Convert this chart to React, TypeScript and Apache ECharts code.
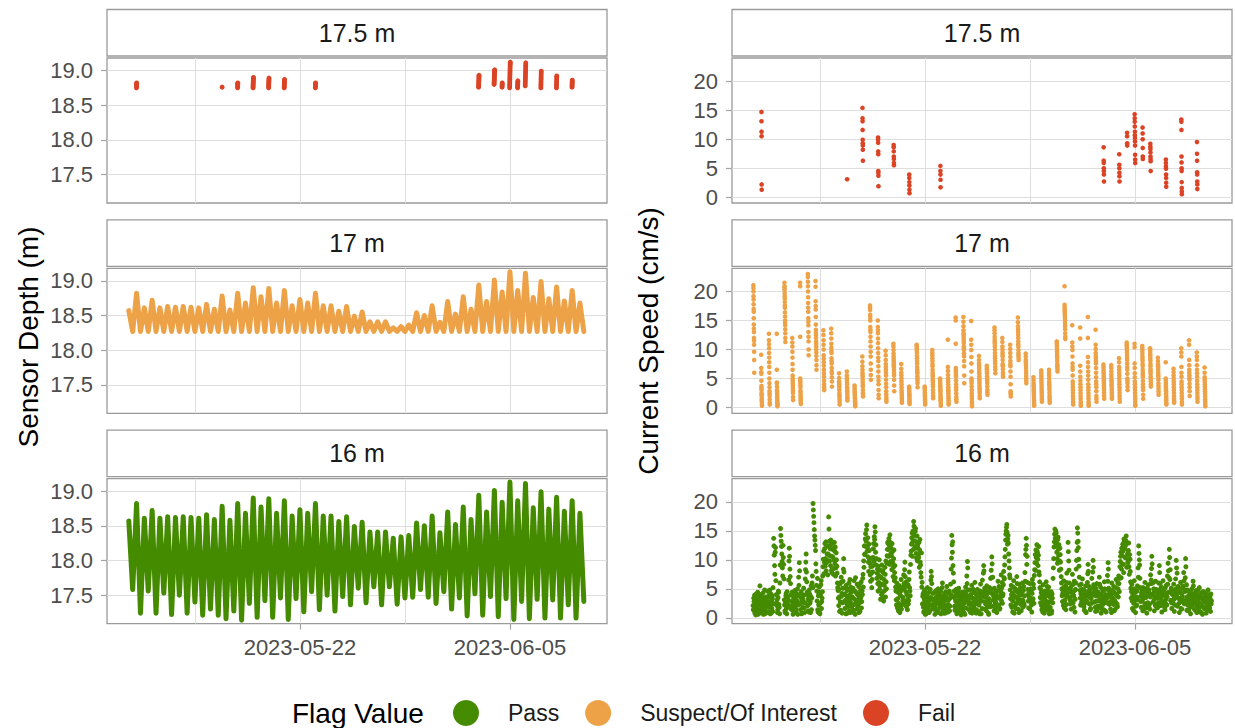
import React, { useEffect, useRef } from "react";
import * as echarts from "echarts";

// ---------------- data ----------------
const panelLabels = ["17.5 m", "17 m", "16 m"];
const legendLabels = ["Pass", "Suspect/Of Interest", "Fail"];
const flagColors = ["#458B00", "#EDA247", "#DB4325"];

const xGridDates = ["2023-05-15", "2023-05-22", "2023-05-29", "2023-06-05"];
const xTickDates = ["2023-05-22", "2023-06-05"];
const depthTicks = [17.5, 18.0, 18.5, 19.0];
const speedTicks = [0, 5, 10, 15, 20];

// sensor depth: successive high / low waters (m)
const firstHighWater = "2023-05-10T14:14:00Z";
const tideHalfPeriodHours = 6.222;
const depthHighs = [
  18.57, 18.82, 18.61, 18.72, 18.61, 18.63, 18.62, 18.63, 18.62, 18.61,
  18.66, 18.59, 18.78, 18.58, 18.82, 18.68, 18.9, 18.77, 18.89, 18.68,
  18.86, 18.64, 18.73, 18.68, 18.82, 18.64, 18.64, 18.56, 18.63, 18.49,
  18.55, 18.41, 18.41, 18.41, 18.32, 18.34, 18.36, 18.54, 18.5, 18.64,
  18.4, 18.7, 18.52, 18.77, 18.59, 18.94, 18.7, 19.01, 18.84, 19.13,
  18.86, 19.11, 18.76, 18.99, 18.74, 18.91, 18.71, 18.86, 18.68,
];
const depthLows = [
  17.58, 17.24, 17.56, 17.24, 17.53, 17.22, 17.5, 17.24, 17.4, 17.21,
  17.3, 17.21, 17.16, 17.27, 17.14, 17.38, 17.18, 17.42, 17.18, 17.46,
  17.15, 17.45, 17.26, 17.55, 17.29, 17.5, 17.27, 17.48, 17.36, 17.6,
  17.39, 17.62, 17.36, 17.62, 17.37, 17.46, 17.47, 17.58, 17.47, 17.38,
  17.55, 17.3, 17.46, 17.2, 17.52, 17.21, 17.48, 17.19, 17.45, 17.15,
  17.41, 17.16, 17.44, 17.17, 17.43, 17.17, 17.36, 17.17, 17.41,
];
// the 17 m bin only reports while the sensor is deeper than this
const bin17SurfaceDepth = 18.27;

// high-water cycles with "Fail" flags at 17.5 m
const failCycles = [1, 12, 14, 16, 18, 20, 24, 45, 47, 48, 49, 50, 51, 53, 55, 57];
const failDepth = [
  [18.75, 18.77, 18.79, 18.81, 18.82],
  [18.76],
  [18.75, 18.77, 18.79, 18.81, 18.82],
  [18.75, 18.77, 18.79, 18.81, 18.83, 18.85, 18.87, 18.89, 18.9],
  [18.75, 18.77, 18.79, 18.81, 18.83, 18.85, 18.87, 18.89],
  [18.75, 18.77, 18.79, 18.81, 18.83, 18.85, 18.87],
  [18.75, 18.77, 18.79, 18.81, 18.82],
  [18.76, 18.78, 18.8, 18.82, 18.84, 18.86, 18.88, 18.9, 18.92, 18.93],
  [18.8, 18.82, 18.84, 18.86, 18.88, 18.9, 18.92, 18.94, 18.96, 18.98, 19.0, 19.01],
  [18.76, 18.78, 18.8, 18.82],
  [18.75, 18.78, 18.81, 18.84, 18.87, 18.9, 18.93, 18.96, 18.99, 19.02, 19.05, 19.08, 19.1, 19.12],
  [18.75, 18.77, 18.79, 18.81, 18.83, 18.85],
  [18.78, 18.81, 18.84, 18.87, 18.9, 18.93, 18.96, 18.99, 19.02, 19.05, 19.08, 19.11],
  [18.75, 18.78, 18.81, 18.84, 18.87, 18.9, 18.93, 18.96, 18.99],
  [18.75, 18.78, 18.81, 18.84, 18.87, 18.9, 18.92],
  [18.76, 18.78, 18.8, 18.82, 18.84, 18.86],
];
const failSpeed = [
  [14.7, 13.1, 11.3, 10.5, 2.2, 1.3],
  [3.1],
  [15.4, 13.6, 13.1, 11.6, 9.9, 9.3, 8.9, 8.2, 6.3],
  [10.3, 9.9, 9.4, 7.9, 7.4, 4.5, 4.2, 3.7, 1.9],
  [9.0, 8.6, 7.9, 7.0, 6.6, 5.9, 5.5],
  [3.9, 3.3, 2.6, 2.0, 1.3, 0.7],
  [5.4, 4.5, 3.9, 3.0, 1.7],
  [8.6, 6.3, 5.9, 5.0, 4.5, 3.9, 2.7],
  [7.4, 5.6, 5.0, 4.2, 3.6, 2.7],
  [11.1, 10.5, 9.3, 8.9],
  [14.3, 13.6, 13.0, 12.2, 11.3, 10.7, 10.2, 9.6, 8.9, 7.3, 6.5, 5.9],
  [12.0, 11.0, 10.0, 8.5, 7.0, 6.6],
  [9.2, 8.7, 8.3, 7.7, 7.0, 6.6, 6.2, 4.5],
  [6.5, 5.9, 5.3, 4.9, 3.9, 3.3, 2.5, 1.8],
  [13.4, 13.0, 11.6, 7.0, 6.0, 5.0, 4.5, 2.6, 1.6, 1.0, 0.5],
  [9.5, 7.5, 6.3, 4.3, 3.9, 2.7, 2.2, 1.4],
];

// "Suspect/Of Interest" speeds at 17 m, one list per high-water cycle
const suspectSpeed = [
  [21.1, 20.6, 20.0, 19.2, 18.6, 17.8, 17.0, 16.5, 15.4, 14.3, 13.6, 13.0, 12.0, 11.5, 10.8, 9.6, 8.2, 6.0],
  [9.1, 6.8, 6.1, 5.8, 4.6, 3.7, 3.3, 3.0, 2.5, 2.2, 2.0, 1.5, 1.2, 1.0, 0.6, 0.3],
  [12.7, 11.6, 10.9, 10.2, 9.4, 8.6, 7.8, 7.0, 6.0, 5.0, 4.2, 3.5, 2.8, 2.4, 2.0, 1.4, 0.8, 0.5],
  [12.7, 6.5, 4.3, 4.2, 3.6, 3.0, 2.7, 2.4, 2.0, 1.7, 1.3, 1.0, 0.7, 0.5, 0.2],
  [21.5, 20.9, 20.6, 20.3, 19.7, 19.2, 18.8, 18.2, 17.6, 17.2, 16.4, 15.7, 15.0, 14.6, 14.2, 13.5, 12.8, 12.0, 11.3],
  [12.0, 11.2, 10.5, 9.6, 8.6, 7.5, 6.5, 5.5, 5.0, 4.6, 4.2, 3.8, 3.3, 2.9, 2.5, 1.8, 1.3],
  [21.5, 20.9, 12.2, 5.0, 4.6, 4.3, 3.9, 3.5, 2.9, 2.6, 2.2, 1.8, 1.5, 1.2, 0.9, 0.6],
  [23.0, 22.5, 21.7, 20.9, 20.0, 19.0, 18.0, 17.2, 16.5, 15.4, 14.8, 14.2, 13.0, 12.2, 11.4, 10.0, 9.0],
  [21.8, 20.8, 18.3, 17.5, 16.9, 15.6, 14.3, 13.4, 12.9, 12.5, 12.0, 11.4, 11.0, 10.5, 10.0, 9.5, 8.9, 8.2, 7.3, 6.5],
  [13.3, 12.5, 11.6, 10.8, 10.0, 9.0, 8.4, 7.8, 7.2, 6.5, 5.9, 5.3, 4.6, 4.0, 3.5, 3.0],
  [13.6, 12.8, 11.9, 11.0, 10.3, 9.8, 9.4, 8.5, 8.0, 7.6, 6.8, 6.2, 5.9, 5.2, 4.5, 3.6],
  [5.9, 5.1, 4.5, 4.1, 3.8, 3.4, 3.0, 2.5, 2.1, 1.8, 1.4, 1.0, 0.5],
  [6.2, 5.5, 5.1, 4.8, 4.4, 4.0, 3.5, 3.1, 2.8, 2.4, 2.0, 1.6, 1.2],
  [3.8, 3.4, 3.0, 2.7, 2.5, 2.2, 2.0, 1.7, 1.5, 1.2, 1.0, 0.7, 0.5, 0.2],
  [8.8, 7.9, 7.1, 6.5, 6.0, 5.6, 5.3, 4.8, 4.3, 3.9, 3.6, 3.0, 2.5, 2.2, 1.9],
  [17.6, 17.2, 16.8, 16.0, 15.5, 15.0, 13.9, 13.4, 13.0, 12.2, 11.4, 10.5, 9.6, 8.8, 7.6, 6.5, 5.6, 4.8],
  [15.0, 13.9, 13.3, 12.8, 11.9, 11.1, 10.2, 9.4, 8.6, 8.0, 7.1, 6.2, 5.3, 4.6, 4.0, 3.0, 2.2, 1.6],
  [9.8, 9.0, 8.2, 7.5, 7.0, 6.5, 6.0, 5.5, 4.8, 4.1, 3.5, 2.8, 2.3, 1.8, 1.4, 1.0],
  [11.0, 10.5, 9.9, 9.3, 8.8, 8.4, 8.0, 7.6, 7.3, 7.0, 6.5, 6.0, 5.5, 4.8, 3.8, 2.8],
  [7.5, 6.7, 6.0, 5.5, 5.0, 4.5, 4.0, 3.5, 3.0, 2.6, 2.2, 1.8, 1.5, 1.1, 0.8],
  [3.6, 3.3, 3.0, 2.7, 2.4, 2.1, 1.8, 1.5, 1.2, 0.9, 0.6],
  [10.8, 10.5, 10.2, 9.8, 9.4, 8.9, 8.5, 8.0, 7.6, 7.0, 6.5, 6.2, 5.9, 5.4, 5.0, 4.6, 4.2, 3.5],
  [3.6, 3.3, 3.0, 2.6, 2.2, 1.9, 1.5, 1.2, 0.8, 0.5],
  [9.9, 9.4, 9.0, 8.5, 8.0, 7.5, 7.1, 6.5, 6.0, 5.6, 5.3, 4.8, 4.5, 4.0, 3.6, 3.0, 2.5, 2.0, 1.6],
  [5.0, 4.6, 4.2, 3.8, 3.5, 3.1, 2.8, 2.4, 2.0, 1.7, 1.5, 1.2, 1.0, 0.6, 0.3],
  [11.7, 7.0, 6.3, 5.6, 5.0, 4.5, 4.0, 3.5, 3.1, 2.8, 2.4, 2.0, 1.6, 1.2, 0.8, 0.5],
  [15.5, 15.0, 11.0, 6.8, 6.4, 6.0, 5.6, 5.3, 4.6, 4.0, 3.5, 3.0, 2.4, 1.8, 1.4, 1.0],
  [15.6, 14.8, 14.0, 13.3, 12.8, 12.4, 12.0, 11.5, 11.1, 10.5, 10.2, 9.9, 9.3, 8.8, 8.0, 7.1, 5.5, 4.2],
  [14.9, 11.7, 10.8, 9.9, 8.7, 7.6, 6.2, 5.0, 4.6, 4.2, 3.6, 3.0, 2.5, 2.0, 1.5, 1.0, 0.6, 0.2],
  [8.9, 8.2, 7.6, 7.2, 6.8, 6.3, 5.9, 5.4, 5.0, 4.6, 4.2, 3.7, 3.3, 2.9, 2.5, 2.0, 1.6],
  [7.2, 6.8, 6.5, 6.2, 5.9, 5.4, 5.0, 4.6, 4.2, 3.6, 3.0, 2.6, 2.2],
  [13.8, 13.3, 12.8, 12.2, 11.7, 11.3, 11.0, 10.5, 10.0, 9.4, 8.9, 8.5, 8.0, 7.6, 7.0, 6.5, 5.9],
  [12.0, 11.3, 10.5, 10.0, 9.5, 9.1, 8.8, 8.2, 7.5, 7.3, 7.1, 6.6, 6.0, 5.6, 5.3],
  [10.8, 10.1, 9.4, 8.7, 8.0, 7.5, 7.1, 6.2, 5.3, 4.0, 2.8, 2.5, 2.3, 1.9],
  [15.5, 14.7, 14.0, 13.5, 13.0, 12.5, 12.0, 11.4, 10.9, 10.5, 9.9, 9.4, 9.0, 8.6, 8.2],
  [9.3, 8.8, 8.2, 7.9, 7.6, 7.2, 6.8, 6.3, 5.9, 5.4, 5.0, 4.6, 4.2],
  [5.2, 4.7, 4.2, 3.8, 3.5, 3.1, 2.8, 2.4, 2.0, 1.6, 1.2, 0.8, 0.5, 0.3],
  [6.4, 6.0, 5.6, 5.2, 4.8, 4.4, 4.0, 3.6, 3.2, 2.8, 2.4, 2.0, 1.6, 1.3, 1.0],
  [6.5, 6.0, 5.5, 5.0, 4.5, 4.1, 3.8, 3.4, 3.0, 2.5, 2.0, 1.6, 1.2, 0.8],
  [11.4, 11.1, 10.8, 10.4, 10.0, 9.6, 9.2, 8.8, 8.5, 8.0, 7.5, 7.2, 7.0, 6.6, 6.2],
  [20.9, 17.7, 17.3, 17.0, 16.7, 16.5, 16.1, 15.8, 15.4, 15.0, 14.5, 14.0, 13.5, 12.8, 12.2, 11.8],
  [14.2, 11.2, 10.5, 9.9, 8.8, 7.6, 7.0, 6.5, 5.5, 4.5, 4.0, 3.5, 3.0, 2.5, 2.0, 1.5, 1.0, 0.5],
  [13.8, 11.9, 7.2, 6.2, 5.3, 4.6, 4.0, 3.5, 3.0, 2.5, 2.0, 1.5, 1.0, 0.6, 0.3],
  [15.6, 12.0, 8.7, 7.8, 7.0, 6.2, 5.5, 4.8, 4.0, 3.5, 3.0, 2.5, 2.0, 1.5, 1.0, 0.6, 0.3],
  [13.4, 10.8, 10.1, 9.4, 8.9, 8.5, 8.0, 7.6, 6.8, 6.0, 5.2, 4.5, 4.0, 3.5, 2.8, 2.0, 1.5, 1.0],
  [7.4, 7.0, 6.5, 6.1, 5.8, 5.4, 5.0, 4.6, 4.2, 3.8, 3.4, 3.0, 2.5, 2.0, 1.5],
  [7.3, 6.8, 6.2, 5.7, 5.2, 4.8, 4.5, 4.1, 3.8, 3.4, 3.0, 2.6, 2.2, 1.8, 1.5],
  [8.5, 7.8, 7.0, 6.5, 6.0, 5.5, 5.0, 4.5, 4.0, 3.5, 3.0, 2.5, 2.0, 1.5, 1.0],
  [11.2, 10.8, 10.5, 10.2, 9.9, 9.5, 9.0, 8.6, 8.2, 7.6, 7.0, 6.5, 5.8, 5.0, 4.6, 4.2, 3.6, 3.0],
  [11.0, 10.4, 7.6, 6.8, 5.9, 5.2, 4.5, 4.0, 3.5, 3.0, 2.5, 2.0, 1.5, 1.0, 0.5, 0.3],
  [10.6, 10.2, 9.8, 9.3, 8.8, 8.4, 8.0, 7.5, 7.1, 6.5, 6.0, 5.6, 5.3, 4.6, 4.0, 3.5, 3.0, 2.2, 1.5],
  [10.2, 9.9, 9.6, 9.2, 8.8, 8.4, 8.0, 7.5, 7.1, 6.6, 6.2, 5.8, 5.3, 4.9, 4.5, 4.0, 3.6],
  [8.6, 8.0, 7.5, 7.2, 7.0, 6.5, 6.0, 5.6, 5.3, 4.8, 4.2, 3.7, 3.2, 2.7, 2.2],
  [7.8, 5.0, 4.6, 4.2, 3.8, 3.5, 3.1, 2.8, 2.4, 2.0, 1.6, 1.2, 0.8, 0.5],
  [6.7, 6.1, 5.5, 5.0, 4.5, 4.0, 3.5, 3.0, 2.5, 2.0, 1.5, 1.1, 0.8],
  [10.2, 9.5, 8.8, 7.0, 6.0, 5.3, 4.5, 4.0, 3.5, 3.0, 2.5, 2.0, 1.5, 1.0, 0.5],
  [11.6, 10.8, 8.2, 7.3, 6.5, 6.0, 5.5, 5.1, 4.8, 4.1, 3.5, 2.8, 2.0],
  [9.5, 8.8, 8.2, 7.3, 6.5, 5.9, 5.3, 4.6, 4.0, 3.5, 3.0, 2.5, 2.0, 1.5, 1.0],
  [6.9, 6.0, 5.2, 4.8, 4.5, 4.0, 3.6, 3.2, 2.8, 2.4, 1.9, 1.4, 1.0, 0.6, 0.2],
];

// "Pass" speeds at 16 m: on the hour and at half past
const passSpeedStart = "2023-05-10T13:00:00Z";
const passSpeedOnHour = [
  2.1, 3.4, 1.2, 0.8, 2.6, 4.1, 3.0, 1.5, 0.6, 2.2, 3.8, 5.5, 2.9, 1.4, 0.9, 3.1, 4.3, 2.4, 1.1, 0.7, 2.8, 3.6, 1.9, 4.6,
  2.5, 1.0, 3.9, 4.8, 2.2, 0.8, 1.6, 3.3, 5.2, 13.7, 10.8, 7.5, 12.1, 4.0, 2.1, 0.9, 3.5, 4.4, 1.8, 6.0, 15.4, 13.2, 11.0, 8.6,
  12.5, 9.2, 3.1, 1.2, 2.7, 4.2, 0.7, 3.6, 2.0, 6.5, 12.0, 8.4, 5.9, 1.5, 2.8, 4.0, 0.6, 3.3, 1.9, 4.7, 2.4, 1.0, 3.7, 5.0,
  2.2, 7.0, 9.5, 3.8, 1.4, 4.5, 2.9, 0.8, 3.2, 5.1, 1.7, 2.6, 8.3, 11.0, 6.2, 4.0, 1.2, 3.0, 4.8, 2.5, 0.9, 5.5, 3.4, 7.2,
  19.7, 17.5, 15.2, 13.4, 11.6, 8.0, 4.6, 6.8, 1.0, 2.2, 5.3, 0.7, 3.9, 6.4, 2.8, 4.5, 8.8, 11.5, 9.6, 12.8, 10.2, 8.1, 12.4, 9.9,
  11.0, 17.4, 13.2, 10.7, 9.0, 12.6, 7.8, 11.8, 10.4, 8.5, 13.0, 9.3, 7.2, 11.2, 8.9, 6.0, 4.7, 2.1, 3.6, 5.8, 1.3, 7.0, 4.2, 2.6,
  6.3, 10.2, 4.1, 1.6, 3.0, 5.6, 2.4, 0.8, 4.9, 3.3, 1.2, 6.6, 2.7, 4.4, 1.9, 3.6, 5.1, 0.9, 2.3, 4.6, 6.9, 3.0, 1.5, 4.0,
  2.0, 5.4, 3.3, 1.1, 4.7, 6.2, 2.8, 4.0, 7.5, 9.8, 12.4, 11.0, 14.5, 13.2, 16.0, 12.2, 10.5, 8.0, 11.6, 9.4, 6.3, 7.7, 5.2, 8.9,
  10.4, 12.8, 14.0, 15.7, 11.3, 9.1, 6.8, 8.4, 4.6, 7.3, 10.0, 5.5, 3.2, 6.9, 9.1, 4.3, 7.8, 2.9, 5.6, 8.7, 3.6, 6.2, 9.4, 11.8,
  13.1, 10.6, 12.5, 14.3, 9.7, 12.0, 8.3, 11.4, 7.1, 10.2, 6.4, 9.0, 5.3, 3.1, 6.0, 1.7, 4.4, 2.5, 5.2, 0.9, 3.8, 6.6, 2.2, 4.9,
  3.5, 7.4, 5.1, 9.6, 2.8, 6.2, 4.0, 1.4, 5.7, 3.0, 7.9, 4.6, 9.2, 11.5, 13.8, 10.6, 15.0, 16.6, 14.2, 12.3, 15.4, 11.1, 13.0, 9.8,
  12.0, 10.4, 8.7, 13.5, 9.1, 7.0, 5.3, 2.4, 4.1, 1.0, 3.2, 4.8, 2.0, 0.7, 3.7, 5.2, 1.6, 2.9, 4.4, 1.2, 3.5, 8.0, 5.9, 2.3,
  4.2, 1.5, 3.0, 0.6, 2.4, 4.7, 3.3, 1.1, 5.0, 2.6, 0.9, 3.8, 4.5, 1.9, 2.8, 6.0, 3.4, 0.8, 2.1, 4.3, 1.4, 3.6, 5.4, 2.2,
  1.0, 3.1, 4.6, 2.0, 5.8, 8.4, 14.2, 11.3, 9.0, 6.2, 3.5, 1.3, 2.9, 4.9, 0.7, 3.7, 2.3, 5.1, 1.6, 4.0, 2.7, 0.5, 3.3, 4.4,
  1.8, 3.9, 2.5, 0.6, 5.3, 4.1, 7.2, 9.7, 3.0, 1.4, 2.6, 4.8, 0.9, 3.5, 5.6, 2.1, 1.2, 4.4, 3.2, 6.1, 2.4, 0.8, 3.8, 4.9,
  2.7, 1.1, 4.2, 3.4, 5.8, 0.7, 2.9, 6.5, 4.0, 9.0, 3.6, 1.5, 2.4, 4.7, 5.5, 1.9, 3.1, 0.6, 4.4, 2.6, 6.8, 8.2, 10.5, 4.1,
  2.0, 3.7, 5.1, 1.3, 2.8, 4.6, 0.9, 3.4, 6.3, 2.2, 4.8, 1.6, 3.9, 7.4, 5.2, 2.5, 4.1, 8.0, 6.7, 10.5, 13.4, 15.0, 16.1, 12.7,
  14.2, 11.0, 8.6, 6.9, 3.3, 5.6, 1.8, 4.2, 2.9, 6.4, 0.8, 3.7, 5.0, 2.4, 7.1, 4.5, 1.5, 3.2, 5.8, 2.6, 4.9, 1.2, 3.9, 6.0,
  3.0, 5.4, 2.1, 7.8, 10.9, 13.7, 9.2, 6.1, 4.0, 1.7, 3.5, 5.9, 2.8, 4.6, 1.0, 6.6, 3.3, 5.1, 7.3, 9.5, 8.2, 10.4, 12.6, 11.2,
  9.0, 12.3, 7.4, 5.2, 2.6, 4.3, 1.4, 3.8, 5.7, 2.0, 0.8, 4.1, 3.0, 6.2, 1.9, 4.7, 2.4, 5.3, 0.7, 3.6, 2.9, 4.5, 1.2, 3.4,
  6.8, 10.2, 13.1, 15.3, 12.4, 14.6, 11.3, 9.4, 13.9, 10.8, 8.2, 12.0, 9.6, 7.1, 5.0, 2.8, 4.6, 6.4, 1.7, 3.9, 5.5, 2.3, 7.7, 4.2,
  13.0, 9.8, 6.0, 3.1, 5.2, 1.5, 4.4, 7.5, 2.6, 3.8, 6.3, 1.0, 4.9, 8.4, 11.6, 15.5, 13.2, 10.1, 7.0, 4.7, 2.2, 5.8, 3.4, 6.7,
  2.1, 4.8, 1.3, 3.6, 5.5, 0.9, 2.9, 6.1, 9.2, 4.3, 2.4, 5.0, 1.6, 3.3, 6.8, 4.1, 9.9, 5.7, 2.7, 4.6, 1.1, 3.8, 5.9, 2.0,
  4.4, 1.7, 7.0, 3.2, 5.3, 0.8, 2.5, 4.9, 3.6, 1.4, 6.2, 2.8, 4.0, 1.0, 3.4, 7.3, 9.5, 5.1, 2.3, 4.7, 1.5, 3.9, 6.0, 2.6,
  3.1, 5.4, 1.2, 4.2, 2.7, 6.6, 3.8, 1.9, 5.0, 7.2, 4.5, 8.8, 10.6, 6.9, 12.0, 9.3, 11.5, 7.8, 13.2, 10.4, 12.6, 14.1, 8.7, 11.0,
  9.6, 12.9, 7.5, 10.1, 6.2, 3.4, 5.8, 1.6, 4.1, 2.5, 6.4, 3.0, 0.9, 4.7, 2.2, 5.5, 8.6, 12.4, 10.0, 6.8, 3.7, 1.8, 4.9, 2.9,
  5.2, 1.3, 3.5, 6.1, 2.4, 4.6, 0.8, 3.9, 5.7, 2.0, 4.3, 1.5, 7.4, 6.5, 10.6, 4.0, 2.7, 5.0, 1.2, 3.6, 6.3, 2.3, 4.8, 1.7,
  3.4, 6.0, 9.0, 4.5, 2.1, 5.3, 1.0, 3.7, 6.4, 2.6, 4.9, 1.4, 3.1, 5.6, 2.2, 7.2, 9.4, 4.4, 11.8, 6.6, 3.0, 5.1, 1.6, 4.0,
  2.5, 5.8, 1.1, 3.9, 6.7, 9.9, 4.2, 2.0, 5.4, 3.3, 0.9, 4.6, 6.1, 2.8, 1.5, 3.7, 5.2, 7.8, 2.4, 4.5, 10.2, 3.1, 1.3, 4.8,
  2.9, 1.2, 4.4, 3.0, 0.7, 3.6, 5.0, 2.2, 6.3, 4.1, 1.5, 3.2, 2.5, 4.7, 0.9, 3.8, 1.8, 2.6, 5.2, 1.0, 3.4, 4.3, 2.0, 0.6,
  3.1, 4.5, 1.6, 2.7, 4.0, 0.8, 3.3, 2.2, 4.8, 1.4, 2.9, 3.7, 1.1, 2.4,
];
const passSpeedHalfHour = [
  1.4, 2.8, 3.9, 1.9, 0.5, 3.3, 2.1, 4.4, 1.2, 3.0, 0.8, 2.5, 4.0, 1.7, 3.6, 2.2, 0.6, 3.4, 4.8, 1.6, 2.9, 0.9, 3.2, 2.0,
  3.6, 1.8, 2.7, 0.7, 4.1, 2.9, 3.8, 1.1, 2.4, 12.4, 9.0, 11.3, 6.4, 2.6, 3.1, 1.4, 4.6, 2.3, 0.7, 9.1, 14.2, 12.3, 9.7, 7.2,
  10.4, 6.7, 2.2, 0.9, 3.8, 1.6, 4.5, 2.4, 3.1, 9.8, 10.6, 7.1, 3.9, 2.0, 4.4, 1.3, 3.0, 0.8, 2.6, 3.5, 1.5, 4.2, 2.9, 0.6,
  3.9, 5.6, 8.1, 2.4, 3.5, 0.7, 4.0, 1.8, 2.7, 3.9, 0.9, 6.7, 9.6, 7.9, 4.4, 2.1, 3.3, 1.0, 4.1, 2.8, 3.7, 1.4, 6.0, 5.2,
  18.6, 16.4, 14.1, 12.5, 9.3, 5.6, 2.9, 1.4, 3.8, 4.4, 0.9, 2.5, 5.7, 1.6, 3.4, 7.2, 10.1, 7.6, 11.9, 8.9, 13.1, 9.5, 11.0, 7.4,
  12.3, 15.3, 9.8, 11.9, 13.4, 8.2, 10.6, 12.9, 7.5, 9.9, 11.5, 12.2, 8.6, 10.0, 7.7, 5.2, 3.4, 4.9, 1.1, 2.8, 6.1, 3.7, 0.8, 5.1,
  8.4, 7.9, 2.9, 5.2, 0.7, 3.8, 4.7, 1.9, 2.6, 6.0, 3.9, 0.9, 5.3, 2.1, 3.5, 4.8, 1.3, 6.4, 3.2, 0.6, 4.4, 2.5, 5.8, 3.1,
  4.1, 0.9, 2.6, 5.9, 3.5, 1.7, 4.6, 6.8, 5.3, 8.7, 10.9, 13.6, 12.3, 15.2, 11.5, 13.8, 9.6, 12.7, 10.1, 7.4, 8.8, 10.3, 6.6, 7.9,
  11.9, 9.7, 13.5, 14.8, 12.6, 10.2, 7.7, 5.9, 8.9, 6.1, 4.9, 8.2, 7.0, 4.0, 5.8, 8.1, 3.4, 6.6, 4.7, 7.5, 9.8, 5.0, 10.7, 12.9,
  11.8, 13.7, 9.2, 13.0, 11.1, 10.7, 12.8, 9.5, 8.7, 11.7, 7.8, 6.9, 4.6, 2.2, 4.8, 3.3, 1.2, 5.6, 2.0, 3.9, 4.6, 1.5, 5.3, 3.0,
  2.4, 5.9, 8.3, 7.1, 4.5, 1.9, 5.5, 3.2, 2.4, 6.6, 5.2, 3.8, 10.8, 12.7, 14.6, 13.1, 11.8, 15.8, 13.3, 14.9, 12.0, 10.3, 14.1, 12.6,
  10.9, 13.0, 11.7, 9.6, 7.8, 11.2, 6.1, 3.7, 1.8, 4.5, 2.6, 0.6, 3.9, 1.5, 4.2, 2.7, 3.4, 0.9, 2.2, 4.9, 6.5, 7.1, 3.3, 1.7,
  3.0, 2.4, 4.4, 1.8, 3.5, 0.9, 2.8, 4.1, 1.5, 3.6, 2.2, 4.7, 0.7, 3.1, 5.2, 2.5, 1.3, 3.9, 2.9, 0.8, 4.5, 2.0, 3.3, 1.6,
  2.3, 4.2, 1.2, 3.4, 4.0, 10.3, 12.6, 13.1, 7.7, 4.6, 2.0, 3.8, 1.7, 4.1, 2.4, 1.1, 4.6, 3.0, 0.9, 3.6, 1.9, 4.3, 2.6, 1.4,
  3.2, 0.9, 4.5, 2.8, 1.7, 3.6, 5.9, 8.6, 4.8, 2.3, 3.7, 1.5, 4.0, 2.6, 0.8, 3.4, 4.9, 1.8, 2.5, 4.2, 3.1, 1.4, 2.7, 3.9,
  3.8, 2.2, 0.7, 4.6, 2.9, 3.9, 1.6, 4.4, 7.7, 8.1, 5.1, 2.8, 3.6, 1.2, 4.1, 2.7, 0.8, 3.3, 5.2, 1.9, 4.8, 6.9, 9.3, 7.0,
  3.1, 1.2, 4.3, 2.6, 3.9, 1.9, 4.5, 2.2, 3.6, 5.4, 1.5, 3.3, 4.6, 2.9, 6.1, 3.8, 5.7, 6.9, 9.1, 11.8, 14.4, 15.6, 14.7, 13.6,
  12.9, 9.8, 7.4, 4.8, 2.2, 4.0, 3.1, 1.0, 5.3, 3.7, 2.0, 4.6, 1.6, 3.5, 5.9, 2.8, 4.3, 0.9, 3.9, 5.1, 2.3, 4.4, 3.0, 1.8,
  4.7, 2.5, 3.8, 6.3, 11.8, 12.5, 10.6, 4.9, 2.9, 4.3, 1.6, 3.4, 5.0, 2.2, 4.2, 3.1, 5.8, 2.5, 8.3, 10.9, 11.7, 9.4, 11.5, 10.1,
  10.8, 7.9, 6.2, 3.5, 4.9, 2.1, 3.3, 1.0, 4.0, 2.8, 4.6, 1.6, 3.7, 2.4, 5.4, 1.3, 3.9, 2.7, 4.3, 1.8, 3.5, 0.8, 4.1, 2.6,
  8.6, 12.2, 14.4, 13.7, 15.0, 12.9, 10.2, 13.5, 11.8, 12.6, 9.8, 10.9, 8.4, 6.0, 3.8, 4.2, 2.1, 5.3, 3.0, 4.8, 1.4, 6.1, 3.6, 5.0,
  11.4, 8.2, 4.9, 2.4, 3.6, 4.4, 2.8, 5.7, 3.9, 1.8, 4.7, 3.2, 6.0, 9.9, 13.0, 14.6, 12.1, 8.9, 5.6, 3.4, 4.1, 2.7, 4.9, 3.1,
  3.5, 1.9, 4.2, 2.6, 1.0, 3.7, 4.5, 7.6, 8.0, 5.4, 3.6, 1.4, 4.3, 2.5, 5.1, 7.9, 8.7, 3.9, 4.0, 1.8, 5.1, 2.9, 1.2, 4.4,
  2.9, 3.8, 5.8, 2.0, 4.1, 1.6, 3.5, 2.3, 4.6, 2.9, 5.0, 1.2, 3.3, 2.6, 4.9, 6.3, 8.4, 3.9, 4.4, 2.8, 3.6, 0.9, 4.7, 3.4,
  2.3, 4.4, 3.0, 1.5, 5.2, 4.0, 2.4, 6.0, 3.6, 5.9, 6.8, 9.7, 11.3, 8.4, 10.8, 12.7, 9.2, 13.6, 11.9, 12.4, 13.3, 12.9, 10.2, 9.5,
  11.6, 8.8, 10.9, 8.0, 5.1, 4.5, 2.9, 3.8, 1.3, 5.0, 3.4, 4.4, 2.0, 3.6, 4.6, 3.1, 7.0, 11.1, 9.1, 5.2, 2.8, 4.3, 3.6, 1.2,
  3.8, 4.4, 2.1, 4.9, 3.5, 1.7, 5.1, 2.6, 3.9, 4.8, 2.4, 3.6, 5.9, 8.5, 9.3, 6.0, 4.2, 3.1, 4.6, 2.1, 4.9, 3.4, 1.9, 4.1,
  2.6, 4.8, 7.8, 5.9, 3.6, 2.9, 4.1, 2.2, 4.7, 3.9, 1.8, 5.2, 2.4, 4.2, 3.6, 5.8, 8.1, 6.9, 10.4, 8.3, 4.4, 2.6, 4.6, 3.1,
  4.0, 3.2, 4.7, 2.2, 5.0, 8.6, 7.7, 3.5, 4.3, 2.5, 4.9, 3.1, 1.6, 4.2, 3.4, 5.5, 2.9, 6.4, 4.8, 6.9, 8.8, 5.7, 3.6, 2.2,
  3.7, 2.1, 4.6, 1.8, 3.9, 2.5, 4.2, 3.4, 5.5, 2.9, 3.6, 1.3, 4.4, 2.2, 3.1, 4.8, 2.7, 1.5, 3.8, 4.1, 2.4, 0.9, 3.3, 4.5,
  1.9, 3.6, 2.8, 4.2, 1.5, 3.4, 2.6, 4.0, 2.1, 3.8, 1.7, 3.2, 4.1, 2.9,
];

// ---------------- build ----------------
const HOUR = 3600000;
const DAY = 24 * HOUR;
const cycleSampleMinutes = 5;
const t0 = Date.parse(firstHighWater);
const halfMs = tideHalfPeriodHours * HOUR;
const highTime = (k: number) => t0 + 2 * k * halfMs;

const depth16: number[][] = [];
depthHighs.forEach((h, k) => {
  depth16.push([highTime(k), h]);
  if (k < depthLows.length) depth16.push([highTime(k) + halfMs, depthLows[k]]);
});
const depth17 = depth16.map(([t, v]) => [t, Math.max(v, bin17SurfaceDepth)]);

const spread = (k: number, vals: number[]) =>
  vals.map((v, j) => [highTime(k) + (j - (vals.length - 1) / 2) * cycleSampleMinutes * 60000, v]);
const depth175 = failCycles.flatMap((k, i) => spread(k, failDepth[i]));
const speed175 = failCycles.flatMap((k, i) => spread(k, failSpeed[i]));
const speed17 = suspectSpeed.flatMap((vals, k) => spread(k, vals));
const speedStartMs = Date.parse(passSpeedStart);
const speed16 = [
  ...passSpeedOnHour.map((v, i) => [speedStartMs + i * HOUR, v]),
  ...passSpeedHalfHour.map((v, i) => [speedStartMs + (i + 0.5) * HOUR, v]),
];

const FONT = "'Liberation Sans', Arial, Helvetica, sans-serif";
const colLeft = [107, 732];
const panelW = 500;
const rowTop = [58, 268.3, 478.6];
const panelH = 145;
const stripH = 46.5;
const stripGap = 2;
const xMin = Date.parse("2023-05-22T00:00:00Z") - 12.86 * DAY;
const xMax = xMin + 33.33 * DAY;
const yRange = [
  [17.09, 19.18],
  [-1.0, 24.0],
];
const gridColor = "#DEDEDE";
const borderColor = "#9A9A9A";
const tickColor = "#A3A3A3";
const textGrey = "#4D4D4D";

const gridMs = xGridDates.map((d) => Date.parse(d + "T00:00:00Z"));
const tickMs = xTickDates.map((d) => Date.parse(d + "T00:00:00Z"));

function buildOption() {
  const grids: any[] = [];
  const xAxes: any[] = [];
  const yAxes: any[] = [];
  const graphics: any[] = [];
  for (let r = 0; r < 3; r++) {
    for (let c = 0; c < 2; c++) {
      const g = r * 2 + c;
      grids.push({
        left: colLeft[c],
        top: rowTop[r],
        width: panelW,
        height: panelH,
        show: true,
        borderColor,
        borderWidth: 1.3,
        backgroundColor: "#ffffff",
        containLabel: false,
        outerBoundsMode: "none",
      });
      xAxes.push({
        type: "value",
        gridIndex: g,
        min: xMin,
        max: xMax,
        position: "bottom",
        axisLine: { show: false, onZero: false },
        axisTick: { show: false, customValues: gridMs },
        axisLabel: { show: false },
        splitLine: { show: true, lineStyle: { color: gridColor, width: 1 } },
      });
      const ticks = c === 0 ? depthTicks : speedTicks;
      yAxes.push({
        type: "value",
        gridIndex: g,
        min: yRange[c][0],
        max: yRange[c][1],
        axisLine: { show: false, onZero: false },
        axisTick: { show: true, length: 6, customValues: ticks, lineStyle: { color: tickColor, width: 1.2 } },
        axisLabel: {
          show: true,
          customValues: ticks,
          margin: 14,
          fontSize: 22,
          fontFamily: FONT,
          color: textGrey,
          formatter: (v: number) => (c === 0 ? v.toFixed(1) : String(v)),
        },
        splitLine: { show: true, lineStyle: { color: gridColor, width: 1 } },
      });
      // facet strip
      graphics.push({
        type: "rect",
        shape: { x: colLeft[c], y: rowTop[r] - stripGap - stripH, width: panelW, height: stripH },
        style: { fill: "#ffffff", stroke: borderColor, lineWidth: 1.3 },
        silent: true,
      });
      graphics.push({
        type: "text",
        x: colLeft[c] + panelW / 2,
        y: rowTop[r] - stripGap - stripH / 2,
        style: {
          text: panelLabels[r],
          fontSize: 25,
          fontFamily: FONT,
          fill: "#1A1A1A",
          textAlign: "center",
          textVerticalAlign: "middle",
        },
        silent: true,
      });
    }
  }
  // tick marks + date labels on bottom row
  for (let c = 0; c < 2; c++) {
    xAxes.push({
      type: "value",
      gridIndex: 4 + c,
      min: xMin,
      max: xMax,
      position: "bottom",
      axisLine: { show: false, onZero: false },
      axisTick: { show: true, length: 6, customValues: tickMs, lineStyle: { color: tickColor, width: 1.2 } },
      axisLabel: {
        show: true,
        customValues: tickMs,
        margin: 13,
        fontSize: 22,
        fontFamily: FONT,
        color: textGrey,
        formatter: (v: number) => new Date(v).toISOString().slice(0, 10),
      },
      splitLine: { show: false },
    });
  }
  graphics.push({
    type: "text",
    x: 28,
    y: 337,
    rotation: Math.PI / 2,
    style: { text: "Sensor Depth (m)", fontSize: 28, fontFamily: FONT, fill: "#000", textAlign: "center", textVerticalAlign: "middle" },
    silent: true,
  });
  graphics.push({
    type: "text",
    x: 648,
    y: 341,
    rotation: Math.PI / 2,
    style: { text: "Current Speed (cm/s)", fontSize: 28, fontFamily: FONT, fill: "#000", textAlign: "center", textVerticalAlign: "middle" },
    silent: true,
  });
  graphics.push({
    type: "text",
    x: 292,
    y: 713,
    style: { text: "Flag Value", fontSize: 28, fontFamily: FONT, fill: "#000", textAlign: "left", textVerticalAlign: "middle" },
    silent: true,
  });

  const scatter = (name: string, color: string, g: number, data: number[][], size: number) => ({
    type: "scatter",
    name,
    xAxisIndex: g,
    yAxisIndex: g,
    data,
    symbol: "circle",
    symbolSize: size,
    itemStyle: { color, opacity: 1 },
    silent: true,
  });
  const line = (name: string, color: string, g: number, data: number[][]) => ({
    type: "line",
    name,
    xAxisIndex: g,
    yAxisIndex: g,
    data,
    showSymbol: false,
    symbol: "none",
    itemStyle: { color },
    lineStyle: { color, width: 5, cap: "round", join: "round" },
    silent: true,
  });

  const series = [
    line(legendLabels[0], flagColors[0], 4, depth16),
    scatter(legendLabels[0], flagColors[0], 5, speed16, 5),
    line(legendLabels[1], flagColors[1], 2, depth17),
    scatter(legendLabels[1], flagColors[1], 3, speed17, 4.6),
    scatter(legendLabels[2], flagColors[2], 0, depth175, 5),
    scatter(legendLabels[2], flagColors[2], 1, speed175, 4.6),
  ];

  return {
    animation: false,
    backgroundColor: "#ffffff",
    textStyle: { fontFamily: FONT },
    grid: grids,
    xAxis: xAxes,
    yAxis: yAxes,
    series,
    graphic: graphics,
    legend: {
      data: legendLabels,
      left: 453,
      top: 700,
      padding: 0,
      orient: "horizontal",
      icon: "circle",
      itemWidth: 26,
      itemHeight: 26,
      itemGap: 26,
      selectedMode: false,
      textStyle: { fontSize: 23, fontFamily: FONT, color: "#1A1A1A", padding: [0, 0, 0, 24] },
    },
  };
}

export default function App() {
  const ref = useRef<HTMLDivElement>(null);
  useEffect(() => {
    if (!ref.current) return;
    const chart = echarts.init(ref.current, undefined, { renderer: "svg" });
    chart.setOption(buildOption() as any);
    return () => chart.dispose();
  }, []);
  return (
    <div
      ref={ref}
      style={{ position: "absolute", left: 0, top: 0, width: 1235, height: 728, background: "#fff" }}
    />
  );
}
